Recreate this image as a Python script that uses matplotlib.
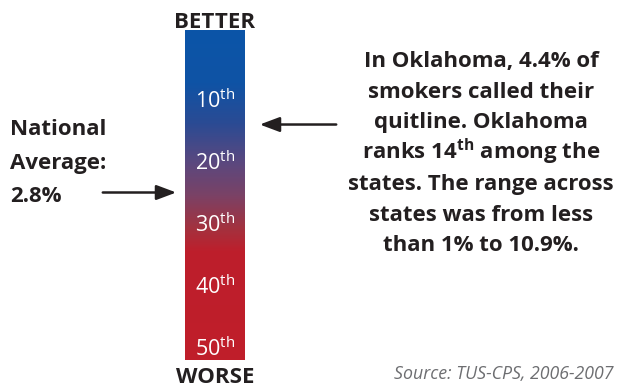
import numpy as np
import matplotlib.pyplot as plt
from matplotlib.colors import LinearSegmentedColormap

# ranks shown along the bar
rank_ticks = [10, 20, 30, 40, 50]
rank_labels = ["10$^{\\mathrm{th}}$", "20$^{\\mathrm{th}}$", "30$^{\\mathrm{th}}$",
               "40$^{\\mathrm{th}}$", "50$^{\\mathrm{th}}$"]
state_rank = 14      # Oklahoma
national_rank = 25   # national average 2.8%
national_lines = ["National", "Average:", "2.8%"]
state_lines = ["In Oklahoma, 4.4% of",
               "smokers called their",
               "quitline. Oklahoma",
               "ranks 14$^{\\mathbf{th}}$ among the",
               "states. The range across",
               "states was from less",
               "than 1% to 10.9%."]
source = "Source: TUS-CPS, 2006-2007"

font = "Open Sans"
plt.rcParams["font.family"] = [font, "DejaVu Sans"]
plt.rcParams["mathtext.fontset"] = "custom"
plt.rcParams["mathtext.rm"] = font
plt.rcParams["mathtext.bf"] = font + ":bold"

DARK = "#231f20"
# y axis in rank units: pixel row = 38 + 6.18 * rank
Y0, K = 38, 6.18


def py(p):
    # pixel row -> rank units, for placing text
    return (p - Y0) / K


fig = plt.figure(figsize=(6.18, 3.87), dpi=100)
ax = fig.add_axes([0, 0, 1, 1])
ax.set_xlim(0, 618)
ax.set_ylim(py(387), py(0))
ax.axis("off")

# gradient bar
cmap = LinearSegmentedColormap.from_list(
    "br", [(0, "#0b55a8"), (0.16, "#0f53a5"), (0.28, "#2a4b94"),
           (0.4, "#5a487f"), (0.5, "#7a4266"), (0.6, "#a3323f"),
           (0.67, "#bd1f2c"), (1, "#c01e2a")])
top, bottom = py(31), py(360)
grad = np.linspace(0, 1, 256).reshape(-1, 1)
ax.imshow(grad, cmap=cmap, aspect="auto", extent=[185, 245, bottom, top], zorder=1)

for r, lab in zip(rank_ticks, rank_labels):
    ax.text(215, r + 1.4, lab, color="white", fontsize=15.5, ha="center", va="baseline")

ax.text(215, py(28), "BETTER", fontsize=16, fontweight="bold", color=DARK,
        ha="center", va="baseline")
ax.text(215, py(383), "WORSE", fontsize=16, fontweight="bold", color=DARK,
        ha="center", va="baseline")

# arrows
style = "-|>,head_length=1.2,head_width=0.45"
ax.annotate("", xy=(257, state_rank), xytext=(339, state_rank),
            arrowprops=dict(arrowstyle=style, color=DARK, lw=1.8))
ax.annotate("", xy=(179, national_rank), xytext=(100, national_rank),
            arrowprops=dict(arrowstyle=style, color=DARK, lw=1.8))

for i, line in enumerate(national_lines):
    ax.text(10, py(135 + 33.5 * i), line, fontsize=16, fontweight="bold", color=DARK,
            ha="left", va="baseline")

for i, line in enumerate(state_lines):
    ax.text(481, py(67 + 30.7 * i), line, fontsize=16, fontweight="bold", color=DARK,
            ha="center", va="baseline")

ax.text(614, py(379), source, fontsize=12.8, style="italic", color="#6d6e71",
        ha="right", va="baseline")

fig.savefig("out.png", dpi=100)
